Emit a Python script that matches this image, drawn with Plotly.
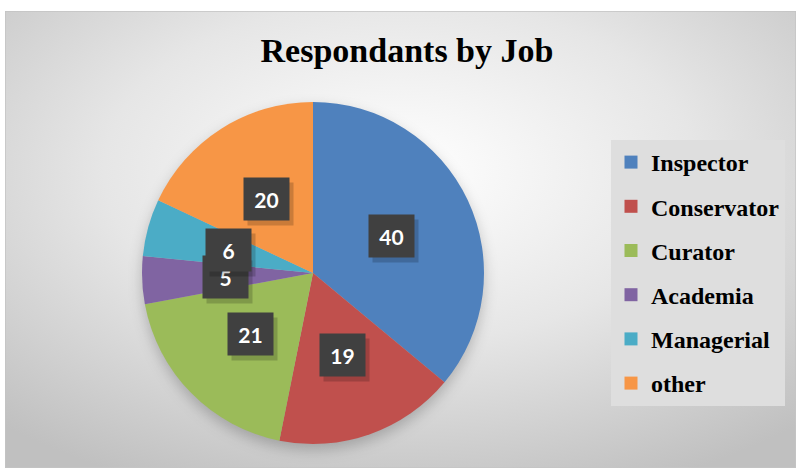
import base64
import numpy as np
import plotly.graph_objects as go

# data
jobs = ["Inspector", "Conservator", "Curator", "Academia", "Managerial", "other"]
counts = [40, 19, 21, 5, 6, 20]
colors = ["#4f81bd", "#c0504d", "#9bbb59", "#8064a2", "#4bacc6", "#f79646"]

W, H = 796, 468
pie_cx, pie_cy, pie_r = 313, 273, 171   # pixels

# gray radial gradient background (Excel style), as an inline svg
svg = f"""<svg xmlns='http://www.w3.org/2000/svg' width='791' height='457' viewBox='0 0 791 457' preserveAspectRatio='none'>
<defs>
<radialGradient id='g' cx='0.5' cy='0.35' r='0.75'>
<stop offset='0' stop-color='#ffffff'/>
<stop offset='0.5' stop-color='#e6e6e6'/>
<stop offset='1' stop-color='#c0c0c0'/>
</radialGradient>
<filter id='b' x='-50%' y='-50%' width='200%' height='200%'><feGaussianBlur stdDeviation='7'/></filter>
</defs>
<rect x='0' y='0' width='791' height='457' fill='url(#g)' stroke='#c4c4c4' stroke-width='1.5'/>
<circle cx='{pie_cx - 5}' cy='{pie_cy - 11 + 6}' r='{pie_r}' fill='#000' fill-opacity='0.22' filter='url(#b)'/>
</svg>"""
bg = "data:image/svg+xml;base64," + base64.b64encode(svg.encode()).decode()

fig = go.Figure()

dom_x = [(pie_cx - pie_r) / W, (pie_cx + pie_r) / W]
dom_y = [1 - (pie_cy + pie_r) / H, 1 - (pie_cy - pie_r) / H]

fig.add_trace(go.Pie(labels=jobs, values=counts,
                     marker=dict(colors=colors, line=dict(width=0)),
                     sort=False, direction='clockwise', rotation=0,
                     textinfo='none', hoverinfo='label+value',
                     showlegend=False,
                     domain=dict(x=dom_x, y=dom_y)))

# legend built from dummy traces so the item spacing can be set
for job, c in zip(jobs, colors):
    fig.add_trace(go.Scatter(x=[None], y=[None], mode='markers', name=f"<b>{job}</b>",
                             legendgroup=job,
                             marker=dict(symbol='square', size=13, color=c)))

# data labels in dark boxes, halfway out along each slice's mid angle
vals = np.array(counts, dtype=float)
cum = np.cumsum(vals) - vals / 2
theta = cum / vals.sum() * 2 * np.pi
for v, t in zip(counts, theta):
    x = (pie_cx + 0.51 * pie_r * np.sin(t)) / W
    y = 1 - (pie_cy - 0.51 * pie_r * np.cos(t)) / H
    # soft shadow then the box itself
    fig.add_annotation(x=x, y=y, xref='paper', yref='paper',
                       xanchor='center', yanchor='middle', xshift=4, yshift=-5,
                       text=" ", showarrow=False, width=43, height=40,
                       bgcolor='rgba(0,0,0,0.18)')
    fig.add_annotation(x=x, y=y, xref='paper', yref='paper',
                       xanchor='center', yanchor='middle',
                       text=f"<b>{v}</b>",
                       showarrow=False, width=43, height=40,
                       bgcolor='#404040',
                       font=dict(family='Lato, Open Sans, sans-serif', size=21, color='white'))

fig.add_layout_image(dict(source=bg, xref='paper', yref='paper',
                          x=5 / W, y=1 - 11 / H, sizex=1 - 5 / W, sizey=1 - 11 / H,
                          sizing='stretch', layer='below'))

fig.update_layout(
    width=W, height=H, autosize=False,
    margin=dict(l=0, r=0, t=0, b=0),
    paper_bgcolor='white', plot_bgcolor='rgba(0,0,0,0)',
    title=dict(text='<b>Respondants by Job</b>', x=407 / W, xanchor='center',
               y=1 - 50 / H, yanchor='middle',
               font=dict(family='Liberation Serif, serif', size=34, color='black')),
    xaxis=dict(visible=False), yaxis=dict(visible=False),
    legend=dict(x=611 / W, y=1 - 140 / H, xanchor='left', yanchor='top',
                bgcolor='#dedede', borderwidth=0, tracegroupgap=10,
                font=dict(family='Liberation Serif, serif', size=24, color='black'),
                itemwidth=30),
)

# page body has an 8px default margin; drop it so the figure sits at 0,0
fig.write_html("out.html", config=dict(displayModeBar=False),
               post_script="document.body.style.margin='0';")
